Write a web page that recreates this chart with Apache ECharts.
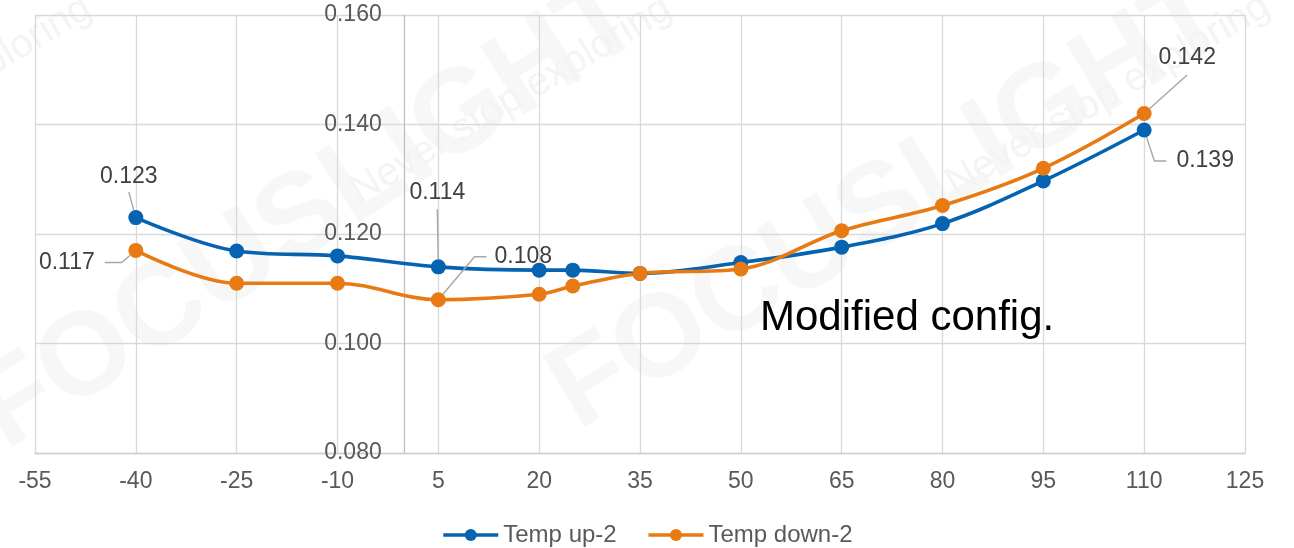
<!DOCTYPE html>
<html>
<head>
<meta charset="utf-8">
<script src="https://cdn.jsdelivr.net/npm/echarts@6/dist/echarts.min.js"></script>
<style>
  html, body { margin: 0; padding: 0; background: #ffffff; }
  #chart { width: 1294px; height: 548px; }
</style>
</head>
<body>
<div id="chart"></div>
<script>
// Temperature points (°C) and the two measured curves
const temps = [-40, -25, -10, 5, 20, 25, 35, 50, 65, 80, 95, 110];
const tempUp = [0.123, 0.1169, 0.1160, 0.114, 0.1134, 0.1134, 0.1128, 0.1148, 0.1176, 0.1219, 0.1297, 0.139];
const tempDown = [0.117, 0.1110, 0.1110, 0.108, 0.1090, 0.1105, 0.1128, 0.1136, 0.1206, 0.1252, 0.1320, 0.142];
const seriesNames = ['Temp up-2', 'Temp down-2'];

// Axis ranges and steps
const xRange = [-55, 125];
const xStep = 15;
const yRange = [0.08, 0.16];
const yStep = 0.02;

// Temperatures whose value is printed, per series
const labelledUp = [-40, 5, 110];
const labelledDown = [-40, 5, 110];

// Callout placement for printed values: [dx, dy] from the marker centre, guide-line tail length, label padding
const calloutStyle = {
  up: {
    '-40': { off: [-7, -41], tail: 0, pad: [4, 9] },
    '5': { off: [-1, -74], tail: 0, pad: [5, 9] },
    '110': { off: [61, 31], tail: 12, pad: [3, 10] }
  },
  down: {
    '-40': { off: [-69, 12], tail: 17, pad: [3, 10] },
    '5': { off: [85, -43], tail: 12, pad: [3, 8] },
    '110': { off: [43, -56], tail: 0, pad: [6, 0] }
  }
};

const FONT = '"Liberation Sans", Arial, Helvetica, sans-serif';
const BLUE = '#0563b1';
const ORANGE = '#e87a14';

function buildData(values, labelled, key) {
  return temps.map((t, i) => {
    const item = { value: [t, values[i]] };
    if (labelled.indexOf(t) >= 0) {
      const s = calloutStyle[key][String(t)];
      item.label = { show: true, padding: s.pad };
      item.labelLine = { show: true, length2: s.tail };
    }
    return item;
  });
}

function calloutLayout(key) {
  return function (params) {
    const t = temps[params.dataIndex];
    const s = calloutStyle[key][String(t)];
    if (!s) return {};
    return { dx: s.off[0], dy: s.off[1] };
  };
}

function makeSeries(name, values, labelled, key, color) {
  return {
    name: name,
    type: 'line',
    smooth: 0.35,
    symbol: 'circle',
    symbolSize: 15,
    showAllSymbol: true,
    lineStyle: { width: 3.6, color: color },
    itemStyle: { color: color },
    emphasis: { disabled: true },
    label: {
      show: false,
      position: 'inside',
      fontFamily: FONT,
      fontSize: 23,
      color: '#404040',
      backgroundColor: 'rgba(255,255,255,0)',
      formatter: p => p.value[1].toFixed(3)
    },
    labelLine: {
      show: false,
      length2: 0,
      minTurnAngle: 0,
      lineStyle: { color: '#a6a6a6', width: 1.4 }
    },
    labelLayout: calloutLayout(key),
    data: buildData(values, labelled, key)
  };
}

// Faint brand watermark drawn behind the plot
function watermark(cx, cy, angle, text, font, fill) {
  return {
    type: 'text',
    x: cx, y: cy,
    rotation: angle * Math.PI / 180,
    z: -100,
    silent: true,
    style: { text: text, font: font, fill: fill, align: 'center', verticalAlign: 'middle' }
  };
}

const chart = echarts.init(document.getElementById('chart'), null, { renderer: 'canvas' });

chart.setOption({
  animation: false,
  backgroundColor: '#ffffff',
  textStyle: { fontFamily: FONT },
  grid: { left: 35, right: 49, top: 15, bottom: 95, containLabel: false, outerBoundsMode: 'none' },
  xAxis: {
    type: 'value',
    min: xRange[0],
    max: xRange[1],
    interval: xStep,
    axisLine: { show: true, onZero: false, lineStyle: { color: '#cfcfcf', width: 1.3 } },
    axisTick: { show: false },
    axisLabel: { fontFamily: FONT, fontSize: 23, color: '#595959', margin: 17 },
    splitLine: { show: true, lineStyle: { color: '#d9d9d9', width: 1.3 } }
  },
  yAxis: {
    type: 'value',
    min: yRange[0],
    max: yRange[1],
    interval: yStep,
    axisLine: { show: true, onZero: false, lineStyle: { color: '#bfbfbf', width: 1.3 } },
    axisTick: { show: false },
    axisLabel: {
      fontFamily: FONT, fontSize: 23, color: '#595959', margin: 23,
      formatter: v => v.toFixed(3)
    },
    splitLine: { show: true, lineStyle: { color: '#d9d9d9', width: 1.3 } }
  },
  legend: {
    data: seriesNames,
    top: 518,
    left: 'center',
    itemWidth: 55,
    itemHeight: 15,
    itemGap: 30,
    lineStyle: { width: 3.6 },
    textStyle: { fontFamily: FONT, fontSize: 24, color: '#595959' }
  },
  graphic: [
    watermark(310, 215, 33, 'FOCUSLIGHT', 'bold 118px ' + FONT, '#f7f7f7'),
    watermark(890, 205, 31, 'FOCUSLIGHT', 'bold 118px ' + FONT, '#f7f7f7'),
    watermark(511, 100, 31, 'Never stop exploring', '40px ' + FONT, '#f4f4f4'),
    watermark(1108, 95, 30, 'Never stop exploring', '40px ' + FONT, '#f4f4f4'),
    watermark(-69, 100, 31, 'Never stop exploring', '40px ' + FONT, '#f4f4f4'),
    {
      type: 'text',
      left: 760,
      top: 297,
      z: 50,
      silent: true,
      style: { text: 'Modified config.', font: '42px ' + FONT, fill: '#000000' }
    }
  ],
  series: [
    makeSeries(seriesNames[0], tempUp, labelledUp, 'up', BLUE),
    makeSeries(seriesNames[1], tempDown, labelledDown, 'down', ORANGE)
  ]
});

// The value axis crosses the temperature axis at 0 °C: shift it there using the x scale
const zeroPx = chart.convertToPixel({ xAxisIndex: 0 }, 0);
const leftPx = chart.convertToPixel({ xAxisIndex: 0 }, xRange[0]);
chart.setOption({ yAxis: { offset: -(zeroPx - leftPx) } });
</script>
</body>
</html>
